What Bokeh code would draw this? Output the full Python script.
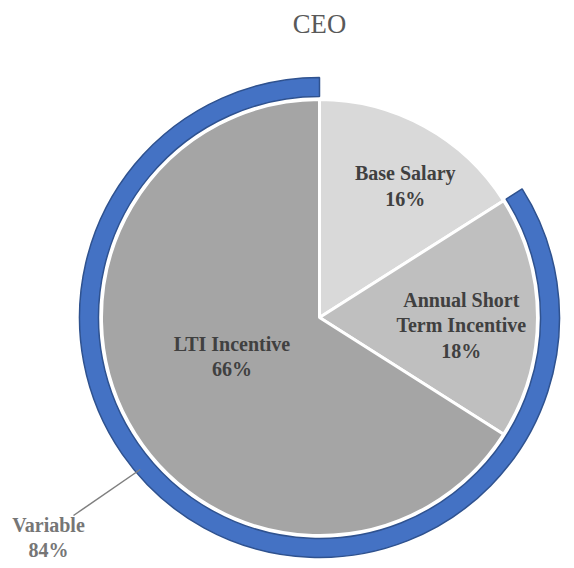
import numpy as np
from bokeh.plotting import figure
from bokeh.models import Range1d, ColumnDataSource
from bokeh.core.properties import value
from bokeh.embed import file_html
from bokeh.resources import INLINE

# ---- data ----
title = "CEO"
categories = ["Base Salary", "Annual Short\nTerm Incentive", "LTI Incentive"]
shares = [16, 18, 66]
colors = ["#D9D9D9", "#BFBFBF", "#A5A5A5"]
variable_label = "Variable"
variable_share = 84  # Annual Short Term + LTI

# ---- layout (pixels) ----
W, H = 574, 568
cx, cy = 319, 251
R = 218
ring_in, ring_out = 221, 240
# label anchor: (radius, angle in degrees) relative to pie centre
label_polar = [(157, 56.9), (142, -3.2), (96, 204.2)]

p = figure(width=W, height=H, x_range=Range1d(0, W), y_range=Range1d(0, H),
           min_border=0, toolbar_location=None, output_backend="svg")
p.axis.visible = False
p.grid.visible = False
p.outline_line_color = None
p.background_fill_color = "white"

frac = np.array(shares, dtype=float) / sum(shares)
cum = np.concatenate([[0], np.cumsum(frac)])
# clockwise from top
start_deg = 90 - cum[1:] * 360
end_deg = 90 - cum[:-1] * 360

src = ColumnDataSource(dict(start=np.radians(start_deg), end=np.radians(end_deg), color=colors))
p.wedge(x=cx, y=cy, radius=R, start_angle="start", end_angle="end", fill_color="color",
        line_color="white", line_width=3, source=src)

# variable ring: covers the variable part (after base salary, to the top)
var_start = 90 - 360.0
var_end = 90 - (1 - variable_share / 100.0) * 360
p.annular_wedge(x=cx, y=cy, inner_radius=ring_in, outer_radius=ring_out,
                start_angle=np.radians(var_start), end_angle=np.radians(var_end),
                fill_color="#4472C4", line_color="#2F528F", line_width=1.5)

# slice labels
lx = [cx + r * np.cos(np.radians(a)) for r, a in label_polar]
ly = [cy + r * np.sin(np.radians(a)) for r, a in label_polar]
texts = [f"{c}\n{s}%" for c, s in zip(categories, shares)]
p.text(x=lx, y=ly, text=texts, text_align="center", text_baseline="middle",
       text_font=value("Liberation Serif"), text_font_style="bold",
       text_font_size="20px", text_color="#404040", text_line_height=1.15)

# variable callout
ang = np.radians(220.3)
p0 = (cx + 235 * np.cos(ang), cy + 235 * np.sin(ang))
p.line(x=[p0[0], 73], y=[p0[1], 53], line_color="#7F7F7F", line_width=1.5)
p.text(x=[48], y=[31], text=[f"{variable_label}\n{variable_share}%"], text_align="center",
       text_baseline="middle", text_font=value("Liberation Serif"), text_font_style="bold",
       text_font_size="20px", text_color="#767676", text_line_height=1.15)

# title
p.text(x=[cx], y=[545], text=[title], text_align="center", text_baseline="middle",
       text_font=value("Liberation Serif"), text_font_size="26.7px", text_color="#595959")

open("out.html", "w").write(file_html(p, INLINE))
